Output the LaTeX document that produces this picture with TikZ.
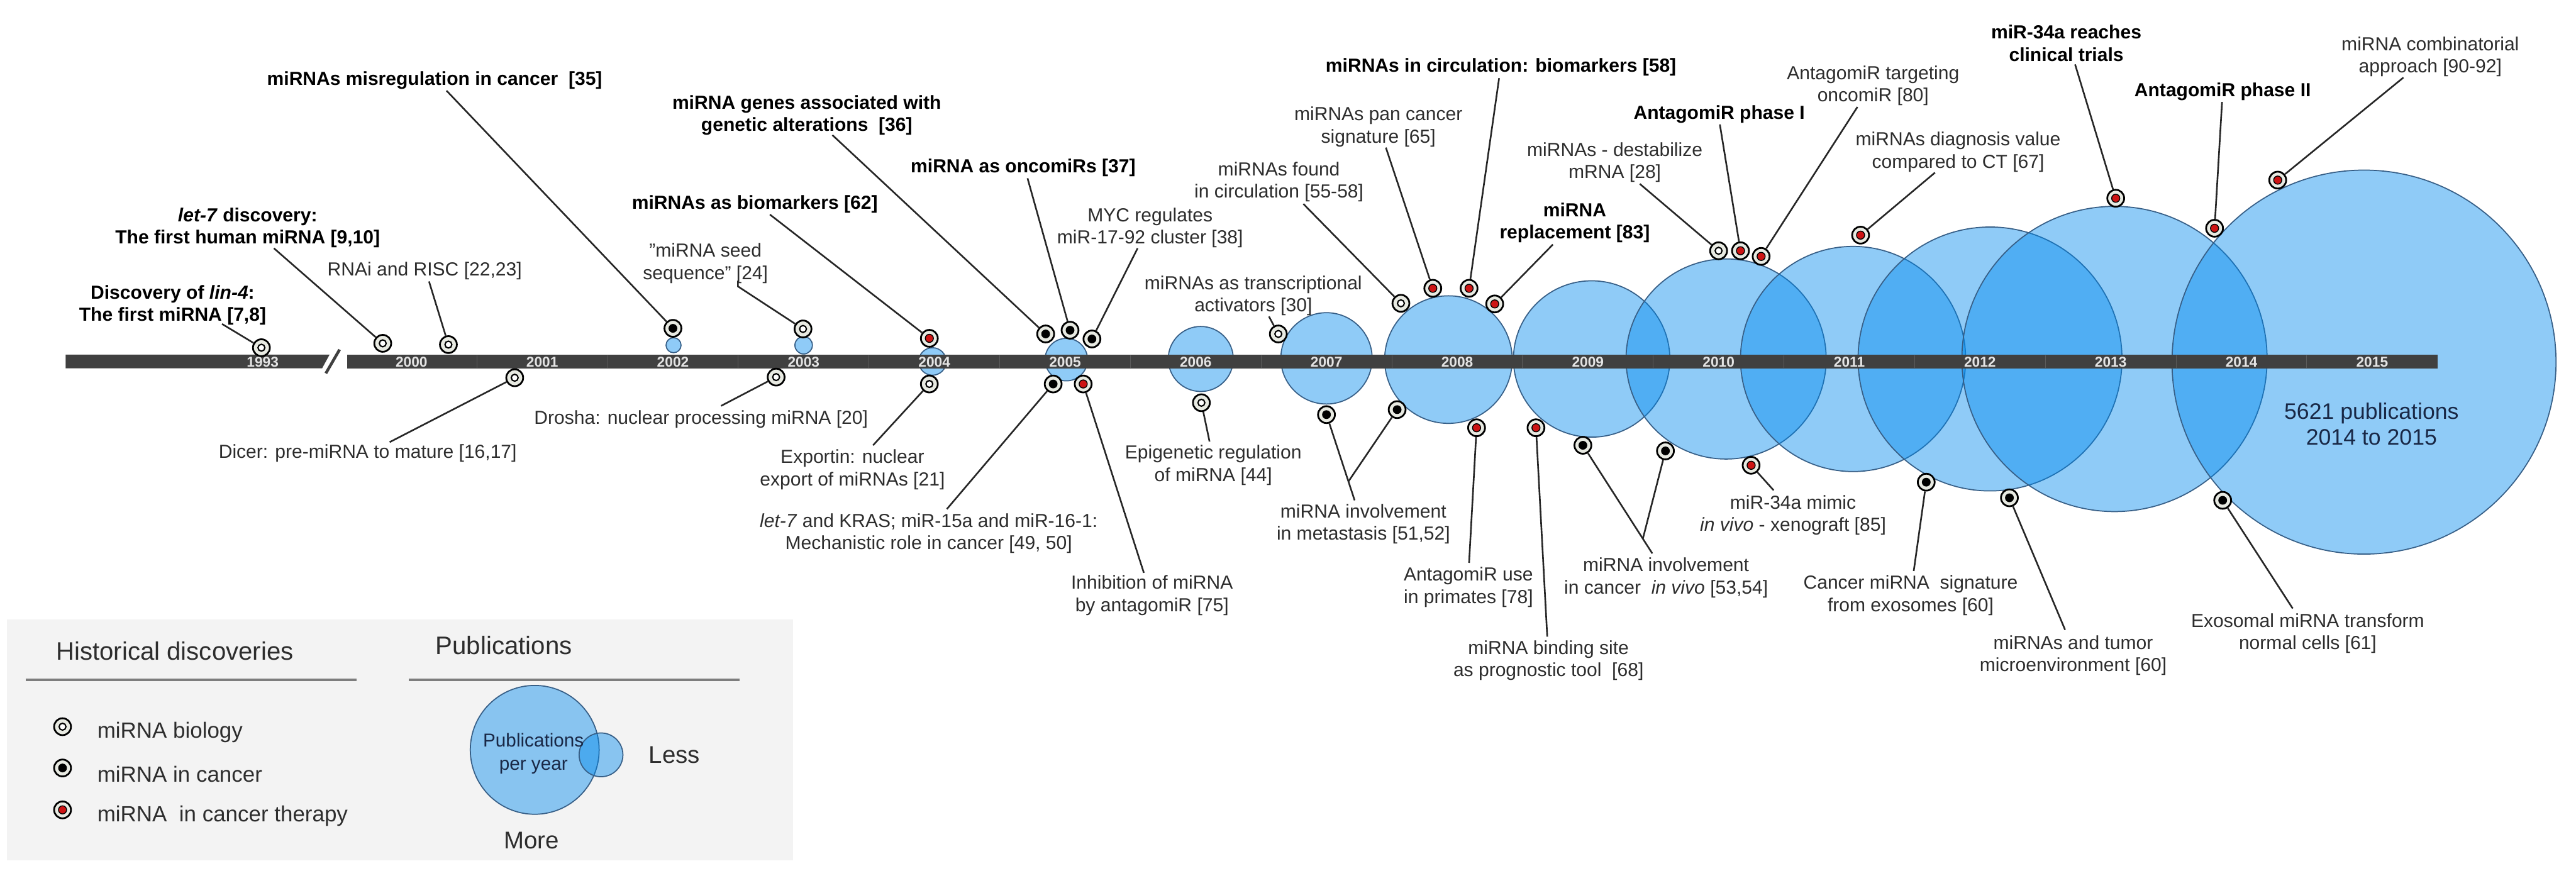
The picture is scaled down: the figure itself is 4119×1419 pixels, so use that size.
\documentclass[tikz,border=0pt]{standalone}
\usepackage{fontspec}
\setmainfont{Liberation Sans}
\usetikzlibrary{calc}
\definecolor{bub}{RGB}{0,137,237}
\definecolor{bubline}{RGB}{55,95,135}
\definecolor{barc}{RGB}{64,64,64}
\definecolor{sepc}{RGB}{92,92,92}
\definecolor{yearc}{RGB}{228,228,228}
\definecolor{txt}{RGB}{45,45,45}
\definecolor{navy}{RGB}{25,40,70}
\definecolor{mkbg}{RGB}{232,234,226}
\definecolor{mkred}{RGB}{205,20,20}
\definecolor{legbg}{RGB}{243,243,243}
\definecolor{legline}{RGB}{125,125,125}
\begin{document}
\begin{tikzpicture}[x=0.1mm,y=-0.1mm,
  bubble/.style={fill=bub,fill opacity=0.44,draw=bubline,line width=0.5pt},
  mk/.style={circle,draw=black,line width=0.8pt,fill=mkbg,minimum size=2.7mm,inner sep=0pt},
  bio/.style={mk,path picture={\draw[black,line width=0.6pt,fill=white] (path picture bounding box.center) circle[radius=0.55mm];}},
  canc/.style={mk,path picture={\fill[black] (path picture bounding box.center) circle[radius=0.7mm];}},
  ther/.style={mk,path picture={\draw[black,line width=0.4pt,fill=mkred] (path picture bounding box.center) circle[radius=0.65mm];}},
  conn/.style={draw=black!85,line width=0.75pt},
  lbl/.style={align=center,text=txt,font=\fontsize{8.6}{10.1}\selectfont,inner sep=0pt},
  blbl/.style={align=center,text=black,font=\fontsize{8.6}{10.1}\selectfont\bfseries,inner sep=0pt},
  yr/.style={text=yearc,font=\fontsize{6.5}{7}\selectfont\bfseries,inner sep=0pt},
  leghead/.style={text=txt,font=\fontsize{11.5}{13}\selectfont,inner sep=0pt,anchor=west},
  legitem/.style={text=txt,font=\fontsize{10}{12}\selectfont,inner sep=0pt,anchor=west}
]
\useasboundingbox (0,0) rectangle (4119,1419);

% ---------------- publication bubbles ----------------
\draw[bubble] (1077,552) circle[radius=1.2mm];
\draw[bubble] (1285,552) circle[radius=1.4mm];
\draw[bubble] (1491,578) circle[radius=2.2mm];
\draw[bubble] (1705,575) circle[radius=3.4mm];
\draw[bubble] (1920,574) circle[radius=5.2mm];
\draw[bubble] (2121,573) circle[radius=7.3mm];
\draw[bubble] (2316,575) circle[radius=10.2mm];
\draw[bubble] (2545,574) circle[radius=12.5mm];
\draw[bubble] (2760,574) circle[radius=16mm];
\draw[bubble] (2963,574) circle[radius=18mm];
\draw[bubble] (3182,574) circle[radius=21.1mm];
\draw[bubble] (3381,574) circle[radius=24.4mm];
\draw[bubble] (3780,579) circle[radius=30.7mm];

% ---------------- time bar ----------------
\fill[barc] (105,567) -- (527,567) -- (515,589) -- (105,589) -- cycle;
\draw[barc,line width=1.3pt] (521,597) -- (543,559);
\fill[barc] (555,567) rectangle (3898,589);
\foreach \k in {0,...,14}{
  \draw[sepc,line width=0.3pt] ({658+209*(\k+0.5)},568) -- ({658+209*(\k+0.5)},588);
}
\node[yr] (y1993) at (420,579) {1993};
\foreach \yy [count=\i from 0] in {2000,2001,2002,2003,2004,2005,2006,2007,2008,2009,2010,2011,2012,2013,2014,2015}{
  \node[yr] (y\yy) at ({658+209*\i},579) {\yy};
}

% ---------------- markers ----------------
\node[bio]  (m7)  at (418,556) {};
\node[bio]  (m9)  at (612,549) {};
\node[bio]  (m22) at (717,551) {};
\node[bio]  (m16) at (823,604) {};
\node[canc] (m35) at (1076,525) {};
\node[bio]  (m24) at (1284,526) {};
\node[bio]  (m20) at (1241,603) {};
\node[ther] (m62) at (1486,541) {};
\node[bio]  (m21) at (1486,614) {};
\node[canc] (m36) at (1672,534) {};
\node[canc] (m37) at (1711,528) {};
\node[canc] (m38) at (1746,542) {};
\node[canc] (m49) at (1684,614) {};
\node[ther] (m75) at (1732,614) {};
\node[bio]  (m44) at (1921,644) {};
\node[bio]  (m30) at (2044,534) {};
\node[bio]  (m55) at (2240,485) {};
\node[ther] (m65) at (2291,461) {};
\node[ther] (m58) at (2349,461) {};
\node[ther] (m83) at (2390,486) {};
\node[canc] (m51) at (2121,663) {};
\node[canc] (m52) at (2234,655) {};
\node[ther] (m78) at (2361,684) {};
\node[ther] (m68) at (2456,684) {};
\node[canc] (m53) at (2531,712) {};
\node[canc] (m54) at (2663,721) {};
\node[bio]  (m28) at (2748,401) {};
\node[ther] (mP1) at (2783,401) {};
\node[ther] (m80) at (2816,410) {};
\node[ther] (m67) at (2975,376) {};
\node[ther] (m85) at (2800,744) {};
\node[canc] (m60a) at (3080,771) {};
\node[canc] (m60b) at (3213,796) {};
\node[ther] (m34) at (3383,317) {};
\node[ther] (mP2) at (3541,365) {};
\node[canc] (m61) at (3554,800) {};
\node[ther] (m90) at (3642,288) {};

% ---------------- connector free ends ----------------
\coordinate (c7)  at (355,518);
\coordinate (c9)  at (438,397);
\coordinate (c22) at (686,450);
\coordinate (c16) at (623,707);
\coordinate (c35) at (714,145);
\coordinate (c24) at (1180,449);
\coordinate (c20) at (1153,649);
\coordinate (c62) at (1231,343);
\coordinate (c21) at (1396,712);
\coordinate (c36) at (1331,216);
\coordinate (c37) at (1643,285);
\coordinate (c38) at (1819,397);
\coordinate (c49) at (1514,814);
\coordinate (c75) at (1829,916);
\coordinate (c44) at (1934,706);
\coordinate (c30) at (2029,506);
\coordinate (c55) at (2084,326);
\coordinate (c65) at (2216,236);
\coordinate (c58) at (2397,125);
\coordinate (c83) at (2483,391);
\coordinate (c51) at (2166,800);
\coordinate (j51) at (2156,770);
\coordinate (c78) at (2349,900);
\coordinate (c68) at (2474,1018);
\coordinate (c53) at (2642,885);
\coordinate (j53) at (2627,861);
\coordinate (c28) at (2622,294);
\coordinate (cP1) at (2750,199);
\coordinate (c80) at (2970,171);
\coordinate (c67) at (3094,276);
\coordinate (c85) at (2836,784);
\coordinate (c60a) at (3060,913);
\coordinate (c60b) at (3302,1007);
\coordinate (c34) at (3318,103);
\coordinate (cP2) at (3553,163);
\coordinate (c61) at (3666,973);
\coordinate (c90) at (3843,124);

% ---------------- connectors ----------------
\draw[conn] (c7) -- (m7);
\draw[conn] (c9) -- (m9);
\draw[conn] (c22) -- (m22);
\draw[conn] (c16) -- (m16);
\draw[conn] (c35) -- (m35);
\draw[conn] (c24) -- ++(0,9) -- (m24);
\draw[conn] (c20) -- (m20);
\draw[conn] (c62) -- (m62);
\draw[conn] (c21) -- (m21);
\draw[conn] (c36) -- (m36);
\draw[conn] (c37) -- (m37);
\draw[conn] (c38) -- (m38);
\draw[conn] (c49) -- (m49);
\draw[conn] (c75) -- (m75);
\draw[conn] (c44) -- (m44);
\draw[conn] (c30) -- (m30);
\draw[conn] (c55) -- (m55);
\draw[conn] (c65) -- (m65);
\draw[conn] (c58) -- (m58);
\draw[conn] (c83) -- (m83);
\draw[conn] (c51) -- (m51);
\draw[conn] (j51) -- (m52);
\draw[conn] (c78) -- (m78);
\draw[conn] (c68) -- (m68);
\draw[conn] (c53) -- (m53);
\draw[conn] (j53) -- (m54);
\draw[conn] (c28) -- (m28);
\draw[conn] (cP1) -- (mP1);
\draw[conn] (c80) -- (m80);
\draw[conn] (c67) -- (m67);
\draw[conn] (c85) -- (m85);
\draw[conn] (c60a) -- (m60a);
\draw[conn] (c60b) -- (m60b);
\draw[conn] (c34) -- (m34);
\draw[conn] (cP2) -- (mP2);
\draw[conn] (c61) -- (m61);
\draw[conn] (c90) -- (m90);

% ---------------- labels above ----------------
\node[blbl] (t7)  at (276,488) {Discovery of \textit{lin-4}:\\The first miRNA [7,8]};
\node[blbl] (t9)  at (396,364) {\textit{let-7} discovery:\\The first human miRNA [9,10]};
\node[lbl]  (t22) at (679,433) {RNAi and RISC [22,23]};
\node[blbl] (t35) at (695,129) {miRNAs misregulation in cancer~ [35]};
\node[lbl]  (t24) at (1128,421) {"miRNA seed\\sequence" [24]};
\node[blbl] (t62) at (1207,327) {miRNAs as biomarkers [62]};
\node[blbl] (t36) at (1290,184) {miRNA genes associated with\\genetic alterations~ [36]};
\node[blbl] (t37) at (1636,268) {miRNA as oncomiRs [37]};
\node[lbl]  (t38) at (1839,364) {MYC regulates\\miR-17-92 cluster [38]};
\node[lbl]  (t30) at (2004,473) {miRNAs as transcriptional\\activators [30]};
\node[lbl]  (t55) at (2045,291) {miRNAs found\\in circulation [55-58]};
\node[lbl]  (t65) at (2204,203) {miRNAs pan cancer\\signature [65]};
\node[blbl] (t58) at (2400,107) {miRNAs in circulation: biomarkers [58]};
\node[blbl] (t83) at (2518,356) {miRNA\\replacement [83]};
\node[lbl]  (t28) at (2582,260) {miRNAs - destabilize\\mRNA [28]};
\node[blbl] (tP1) at (2749,183) {AntagomiR phase I};
\node[lbl]  (t80) at (2995,137) {AntagomiR targeting\\oncomiR [80]};
\node[lbl]  (t67) at (3131,243) {miRNAs diagnosis value\\compared to CT [67]};
\node[blbl] (t34) at (3304,69) {miR-34a reaches\\clinical trials};
\node[blbl] (tP2) at (3554,147) {AntagomiR phase II};
\node[lbl]  (t90) at (3886,91) {miRNA combinatorial\\approach [90-92]};

% ---------------- labels below ----------------
\node[lbl] (t16) at (588,725) {Dicer: pre-miRNA to mature [16,17]};
\node[lbl] (t20) at (1121,670) {Drosha: nuclear processing miRNA [20]};
\node[lbl] (t21) at (1363,751) {Exportin: nuclear\\export of miRNAs [21]};
\node[lbl] (t49) at (1485,853) {\textit{let-7} and KRAS; miR-15a and miR-16-1:\\Mechanistic role in cancer [49, 50]};
\node[lbl] (t75) at (1842,952) {Inhibition of miRNA\\by antagomiR [75]};
\node[lbl] (t44) at (1940,744) {Epigenetic regulation\\of miRNA [44]};
\node[lbl] (t51) at (2180,838) {miRNA involvement\\in metastasis [51,52]};
\node[lbl] (t78) at (2348,939) {AntagomiR use\\in primates [78]};
\node[lbl] (t68) at (2476,1056) {miRNA binding site\\as prognostic tool~ [68]};
\node[lbl] (t53) at (2664,924) {miRNA involvement\\in cancer~ \textit{in vivo} [53,54]};
\node[lbl] (t85) at (2867,824) {miR-34a mimic\\\textit{in vivo} - xenograft [85]};
\node[lbl] (t60a) at (3055,952) {Cancer miRNA~ signature\\from exosomes [60]};
\node[lbl] (t60b) at (3315,1048) {miRNAs and tumor\\microenvironment [60]};
\node[lbl] (t61) at (3690,1013) {Exosomal miRNA transform\\normal cells [61]};

\node[align=center,text=navy,font=\fontsize{10.2}{11.7}\selectfont,inner sep=0pt] (t5621) at (3792,678) {5621 publications\\2014 to 2015};

% ---------------- legend ----------------
\fill[legbg] (11,991) rectangle (1268,1376);
\node[leghead] (lh1) at (89,1041) {Historical discoveries};
\draw[legline,line width=1.1pt] (41,1087) -- (570,1087);
\node[leghead] (lh2) at (696,1032) {Publications};
\draw[legline,line width=1.1pt] (654,1087) -- (1183,1087);
\node[bio]  (lm1) at (100,1162) {};
\node[canc] (lm2) at (100,1228) {};
\node[ther] (lm3) at (100,1295) {};
\node[legitem] (li1) at (155,1171) {miRNA biology};
\node[legitem] (li2) at (155,1238) {miRNA in cancer};
\node[legitem] (li3) at (155,1305) {miRNA~ in cancer therapy};
\draw[bubble] (855,1199) circle[radius=10.3mm];
\draw[bubble] (961,1207) circle[radius=3.5mm];
\node[align=center,text=navy,font=\fontsize{8.5}{10.5}\selectfont,inner sep=0pt] (lpub) at (853,1205) {Publications\\per year};
\node[legitem,font=\fontsize{11}{13}\selectfont] (lless) at (1037,1207) {Less};
\node[text=txt,font=\fontsize{11}{13}\selectfont,inner sep=0pt] (lmore) at (850,1344) {More};
\end{tikzpicture}
\end{document}
